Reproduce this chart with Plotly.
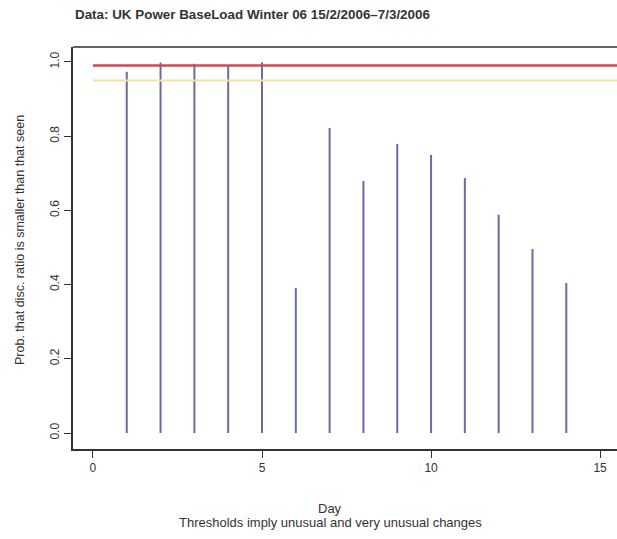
import plotly.graph_objects as go

days = list(range(1, 15))
probs = [0.973, 0.998, 0.995, 0.992, 0.999, 0.391, 0.822, 0.679, 0.779, 0.749, 0.687, 0.588, 0.496, 0.404]
very_unusual = 0.99
unusual = 0.95
title = "Data: UK Power BaseLoad Winter 06 15/2/2006\u20137/3/2006"
x_title = "Day"
subtitle = "Thresholds imply unusual and very unusual changes"
y_title = "Prob. that disc. ratio is smaller than that seen"

xr = [-0.59, 15.5]

fig = go.Figure()
fig.add_trace(go.Scatter(x=[0, xr[1]], y=[unusual, unusual], mode="lines",
                         line=dict(color="#f2e49a", width=2), hoverinfo="skip"))
fig.add_trace(go.Scatter(x=[0, xr[1]], y=[very_unusual, very_unusual], mode="lines",
                         line=dict(color="#cc4a55", width=2.5), hoverinfo="skip"))
fig.add_trace(go.Bar(x=days, y=probs, width=0.06, marker=dict(color="#6c6ca6", line=dict(width=0))))

font = "Liberation Sans, Arial, sans-serif"
fig.update_layout(
    width=617, height=539,
    margin=dict(l=73, r=0, t=47, b=90),
    paper_bgcolor="white", plot_bgcolor="white",
    showlegend=False,
    font=dict(family=font, size=12, color="#333333"),
    title=dict(text="<b>" + title + "</b>", x=75/617, xanchor="left", y=1-14/539, yanchor="middle",
               font=dict(size=13.4, color="#333333")),
    xaxis=dict(range=xr, tickvals=[0, 5, 10, 15], showgrid=False, zeroline=False,
               showline=True, linecolor="#333333", linewidth=1.5,
               ticks="outside", ticklen=7, tickcolor="#333333"),
    yaxis=dict(range=[-0.043, 1.04], tickvals=[0, 0.2, 0.4, 0.6, 0.8, 1.0], tickformat=".1f",
               tickangle=-90, showgrid=False, zeroline=False,
               showline=True, linecolor="#333333", linewidth=1.5,
               ticks="outside", ticklen=7, tickcolor="#333333"),
    shapes=[dict(type="line", xref="paper", yref="paper", x0=0, x1=1, y0=1, y1=1,
                 line=dict(color="#333333", width=1.5))],
)
fig.add_annotation(text=x_title, xref="paper", yref="paper", x=(330-73)/544, y=-(508-449)/402,
                   showarrow=False, yanchor="middle", font=dict(size=13))
fig.add_annotation(text=subtitle, xref="paper", yref="paper", x=(330-73)/544, y=-(522-449)/402,
                   showarrow=False, yanchor="middle", font=dict(size=13))
fig.add_annotation(text=y_title, xref="paper", yref="paper", x=-(73-20)/544, y=(449-240)/402,
                   showarrow=False, textangle=-90, xanchor="center", yanchor="middle", font=dict(size=12.5))
fig.write_html("out.html")
